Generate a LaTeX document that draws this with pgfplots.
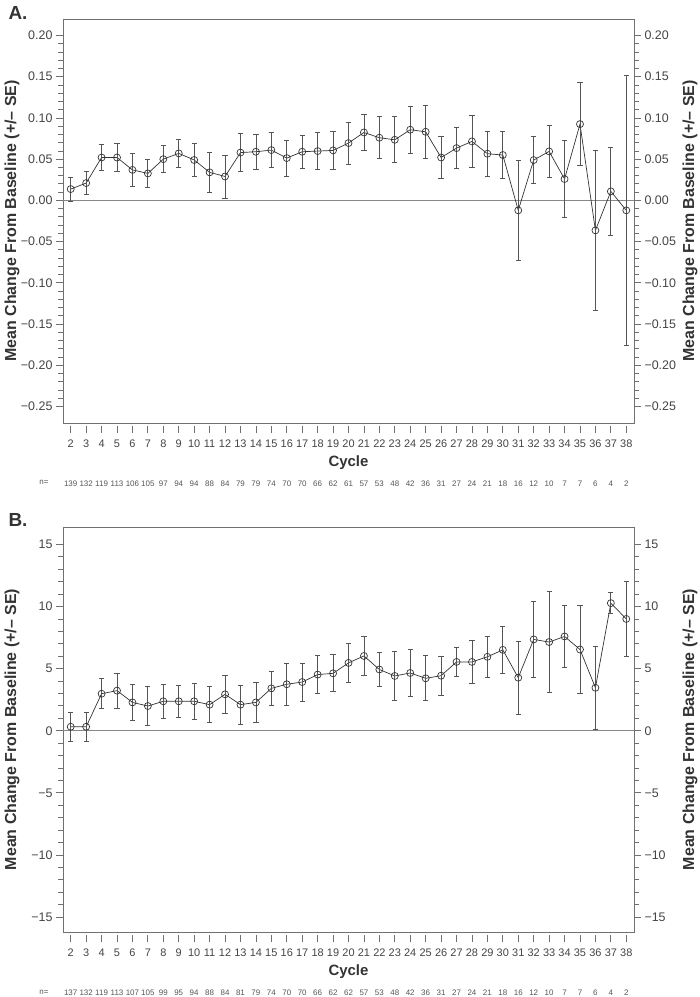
\documentclass[border=0pt]{standalone}
\usepackage{fontspec}
\setmainfont{Liberation Sans}
\usepackage{pgfplots}
\usepackage{pgfplotstable}
\pgfplotsset{compat=1.18}
\definecolor{axisgray}{HTML}{707070}
\definecolor{tickgray}{HTML}{444444}
\definecolor{datagray}{HTML}{333333}
\definecolor{errgray}{HTML}{555555}
\definecolor{zerogray}{HTML}{888888}
\definecolor{ngray}{HTML}{555555}

\pgfplotstableread{
c m se
2 0.0137 0.0146
3 0.0210 0.0136
4 0.0520 0.0160
5 0.0520 0.0174
6 0.0370 0.0204
7 0.0327 0.0168
8 0.0500 0.0164
9 0.0570 0.0167
10 0.0490 0.0199
11 0.0340 0.0239
12 0.0290 0.0260
13 0.0580 0.0230
14 0.0590 0.0210
15 0.0610 0.0212
16 0.0513 0.0219
17 0.0590 0.0199
18 0.0598 0.0228
19 0.0606 0.0226
20 0.0695 0.0255
21 0.0824 0.0223
22 0.0760 0.0253
23 0.0735 0.0280
24 0.0857 0.0283
25 0.0832 0.0322
26 0.0520 0.0257
27 0.0634 0.0248
28 0.0715 0.0315
29 0.0566 0.0273
30 0.0550 0.0289
31 -0.0121 0.0607
32 0.0489 0.0288
33 0.0594 0.0311
34 0.0259 0.0467
35 0.0925 0.0505
36 -0.0364 0.0975
37 0.0109 0.0536
38 -0.0121 0.1639
}\dataA

\pgfplotstableread{
c m se
2 0.32 1.17
3 0.32 1.18
4 2.98 1.20
5 3.23 1.41
6 2.28 1.48
7 1.99 1.54
8 2.37 1.37
9 2.37 1.31
10 2.37 1.48
11 2.10 1.44
12 2.93 1.51
13 2.10 1.56
14 2.28 1.59
15 3.41 1.40
16 3.74 1.67
17 3.92 1.53
18 4.52 1.52
19 4.62 1.49
20 5.46 1.60
21 6.02 1.57
22 4.93 1.35
23 4.41 1.95
24 4.65 1.87
25 4.22 1.81
26 4.43 1.59
27 5.54 1.19
28 5.54 1.71
29 5.95 1.65
30 6.51 1.89
31 4.27 2.92
32 7.35 3.08
33 7.14 4.06
34 7.59 2.53
35 6.54 3.53
36 3.46 3.35
37 10.27 0.85
38 9.00 3.04
}\dataB

\pgfplotsset{
  base/.style={
    scale only axis, width=571bp,
    xmin=1.5, xmax=38.5,
    clip=false,
    axis line style={draw=axisgray, line width=0.9bp},
    tick style={draw=axisgray, line width=0.8bp},
    tick align=outside,
    major tick length=7bp, minor tick length=4.5bp,
    xtick={2,...,38},
    xtick style={yshift=-3bp},
    minor y tick num=4,
    /pgf/number format/assume math mode=true,
    yticklabel style={font=\fontsize{12.5}{12.5}\selectfont, text=tickgray},
    xticklabel style={font=\fontsize{11}{11}\selectfont, text=tickgray, anchor=center, yshift=-14bp},
    label style={font=\bfseries\fontsize{16}{16}\selectfont, text=datagray},
  },
  leftax/.style={
    base,
    ytick pos=left, xtick pos=bottom,
    ylabel={Mean Change From Baseline (+/– SE)},
    every axis y label/.style={at={(rel axis cs:0,0.5)}, anchor=center, rotate=90, yshift=51bp,
      font=\bfseries\fontsize{16}{16}\selectfont, text=datagray},
    xlabel={Cycle},
    every axis x label/.style={at={(rel axis cs:0.5,0)}, anchor=center, yshift=-40bp,
      font=\bfseries\fontsize{15}{15}\selectfont, text=datagray},
    extra x ticks={2,...,38},
    extra x tick style={major tick length=0pt, tick style={draw=none},
      xticklabel style={font=\fontsize{8}{8}\selectfont, text=ngray, yshift=-47bp}},
  },
  rightax/.style={
    base,
    axis y line*=right, hide x axis,
    ylabel={Mean Change From Baseline (+/– SE)},
    every axis y label/.style={at={(rel axis cs:1,0.5)}, anchor=center, rotate=90, yshift=-56bp,
      font=\bfseries\fontsize{16}{16}\selectfont, text=datagray},
  },
  dataplot/.style={
    color=datagray, line width=0.7bp,
    mark=o, mark size=3.5bp, mark options={solid, line width=0.7bp, draw=datagray, fill=none},
    error bars/.cd, y dir=both, y explicit,
    error bar style={draw=errgray, line width=0.8bp},
    error mark options={rotate=90, draw=errgray, mark size=2.6bp, line width=0.8bp},
  },
}

\newcommand{\fmtA}{\pgfmathparse{\tick<0}\ifnum\pgfmathresult=1 −\fi\pgfmathparse{abs(\tick)}\pgfmathprintnumber[fixed,fixed zerofill,precision=2]{\pgfmathresult}}
\newcommand{\fmtB}{\pgfmathparse{\tick<0}\ifnum\pgfmathresult=1 −\fi\pgfmathparse{abs(\tick)}\pgfmathprintnumber[fixed,precision=0]{\pgfmathresult}}

\begin{document}
\begin{tikzpicture}
\path[use as bounding box] (0,0) rectangle (700bp,997bp);

% ---------------- Panel A ----------------
\node[anchor=base west, font=\bfseries\fontsize{19}{19}\selectfont, text=datagray] at (5bp,977bp) {A.};
\node[anchor=center, font=\fontsize{8}{8}\selectfont, text=ngray] at (44bp,515bp) {n=};
\begin{axis}[leftax, at={(63bp,574bp)}, anchor=south west, height=404bp,
  ymin=-0.27, ymax=0.22,
  ytick={-0.25,-0.2,-0.15,-0.1,-0.05,0,0.05,0.1,0.15,0.2},
  yticklabel={\fmtA},
  extra x tick labels={139,132,119,113,106,105,97,94,94,88,84,79,79,74,70,70,66,62,61,57,53,48,42,36,31,27,24,21,18,16,12,10,7,7,6,4,2},
]
\addplot[zerogray, line width=1.3bp, forget plot] coordinates {(1.5,0) (38.5,0)};
\addplot[dataplot] table[x=c, y=m, y error=se] {\dataA};
\end{axis}
\begin{axis}[rightax, at={(63bp,574bp)}, anchor=south west, height=404bp,
  ymin=-0.27, ymax=0.22,
  ytick={-0.25,-0.2,-0.15,-0.1,-0.05,0,0.05,0.1,0.15,0.2},
  yticklabel={\fmtA},
]
\addplot[draw=none, forget plot] coordinates {(2,0)};
\end{axis}

% ---------------- Panel B ----------------
\node[anchor=base west, font=\bfseries\fontsize{19}{19}\selectfont, text=datagray] at (5bp,470bp) {B.};
\node[anchor=center, font=\fontsize{8}{8}\selectfont, text=ngray] at (44bp,5bp) {n=};
\begin{axis}[leftax, at={(63bp,65bp)}, anchor=south west, height=405bp,
  ymin=-16.2, ymax=16.4,
  ytick={-15,-10,-5,0,5,10,15},
  yticklabel={\fmtB},
  extra x tick labels={137,132,119,113,107,105,99,95,94,88,84,81,79,74,70,70,66,62,62,57,53,48,42,36,31,27,24,21,18,16,12,10,7,7,6,4,2},
]
\addplot[zerogray, line width=1.3bp, forget plot] coordinates {(1.5,0) (38.5,0)};
\addplot[dataplot] table[x=c, y=m, y error=se] {\dataB};
\end{axis}
\begin{axis}[rightax, at={(63bp,65bp)}, anchor=south west, height=405bp,
  ymin=-16.2, ymax=16.4,
  ytick={-15,-10,-5,0,5,10,15},
  yticklabel={\fmtB},
]
\addplot[draw=none, forget plot] coordinates {(2,0)};
\end{axis}
\end{tikzpicture}
\end{document}
